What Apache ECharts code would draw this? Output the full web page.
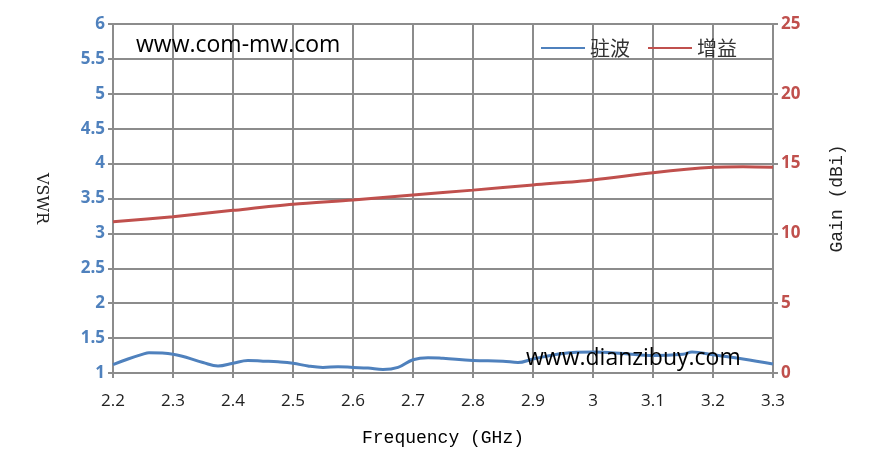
<!DOCTYPE html>
<html><head><meta charset="utf-8">
<script src="https://cdn.jsdelivr.net/npm/echarts@6/dist/echarts.min.js"></script>
<style>html,body{margin:0;padding:0;background:#fff}#c{width:879px;height:469px}</style>
</head><body><div id="c"></div>
<script>
const freqVswr = [2.2,2.225,2.25,2.26,2.3,2.35,2.375,2.4,2.425,2.45,2.475,2.5,2.525,2.55,2.575,2.6,2.625,2.65,2.675,2.7,2.725,2.75,2.8,2.85,2.875,2.9,2.95,3.0,3.05,3.1,3.15,3.165,3.2,3.25,3.3];
const vswr =     [1.12,1.20,1.27,1.29,1.27,1.15,1.10,1.14,1.18,1.17,1.16,1.14,1.10,1.08,1.09,1.08,1.07,1.05,1.08,1.19,1.22,1.21,1.18,1.17,1.15,1.20,1.28,1.30,1.28,1.25,1.27,1.30,1.26,1.20,1.13];
const freqGain = [2.2,2.3,2.4,2.5,2.6,2.7,2.8,2.9,3.0,3.1,3.2,3.25,3.3];
const gain =     [10.84,11.2,11.65,12.08,12.39,12.75,13.1,13.47,13.83,14.35,14.73,14.77,14.73];
const seriesNames = ['驻波','增益'];
const watermark1 = 'www.com-mw.com';
const watermark2 = 'www.dianzibuy.com';

const chart = echarts.init(document.getElementById('c'));
const gridColor = '#8c8c8c';
chart.setOption({
  animation:false,
  grid:{left:113,right:106,top:24,bottom:96},
  legend:{
    data:seriesNames, right:137, top:33, itemWidth:44, itemHeight:10, itemGap:18,
    textStyle:{fontFamily:'Noto Sans CJK SC', fontSize:20, color:'#333'},
    icon:'path://M0,4 L44,4 L44,6 L0,6 Z'
  },
  xAxis:{
    type:'value', min:2.2, max:3.3, interval:0.1,
    name:'Frequency (GHz)', nameLocation:'middle', nameGap:56,
    nameTextStyle:{fontFamily:'Liberation Mono', fontSize:18, color:'#000'},
    axisLine:{lineStyle:{color:gridColor,width:2}},
    axisTick:{show:true,length:5,lineStyle:{color:gridColor,width:2}},
    axisLabel:{color:'#222', fontSize:17, fontFamily:'Open Sans', margin:20,
      formatter:v=>String(Math.round(v*10)/10)},
    splitLine:{show:true,lineStyle:{color:gridColor,width:2}}
  },
  yAxis:[{
    type:'value', min:1, max:6, interval:0.5, position:'left',
    name:'VSWR', nameLocation:'middle', nameGap:64, nameRotate:-90,
    nameTextStyle:{fontFamily:'DejaVu Serif', fontSize:16, color:'#222'},
    axisLine:{show:true,lineStyle:{color:gridColor,width:2}},
    axisTick:{show:true,length:5,lineStyle:{color:gridColor,width:2}},
    axisLabel:{color:'#4f81bd', fontSize:17, fontWeight:'bold', fontFamily:'Open Sans', margin:8},
    splitLine:{show:true,lineStyle:{color:gridColor,width:2}}
  },{
    type:'value', min:0, max:25, interval:5, position:'right',
    name:'Gain (dBi)', nameLocation:'middle', nameGap:55, nameRotate:90,
    nameTextStyle:{fontFamily:'Liberation Mono', fontSize:18, color:'#222'},
    axisLine:{show:true,lineStyle:{color:gridColor,width:2}},
    axisTick:{show:true,length:5,lineStyle:{color:gridColor,width:2}},
    axisLabel:{color:'#c0504d', fontSize:17, fontWeight:'bold', fontFamily:'Open Sans', margin:8},
    splitLine:{show:false}
  }],
  series:[{
    name:seriesNames[0], type:'line', yAxisIndex:0, smooth:0.4, showSymbol:false,
    lineStyle:{color:'#4f81bd', width:3}, itemStyle:{color:'#4f81bd'},
    data:freqVswr.map((f,i)=>[f,vswr[i]])
  },{
    name:seriesNames[1], type:'line', yAxisIndex:1, smooth:0.3, showSymbol:false,
    lineStyle:{color:'#c0504d', width:3}, itemStyle:{color:'#c0504d'},
    data:freqGain.map((f,i)=>[f,gain[i]])
  }],
  graphic:[
    {type:'text', left:136, top:34, z:100, style:{text:watermark1, font:'23px "Open Sans"', fill:'#000'}},
    {type:'text', left:526, top:347, z:100, style:{text:watermark2, font:'23px "Open Sans"', fill:'#000'}}
  ]
});
</script></body></html>
